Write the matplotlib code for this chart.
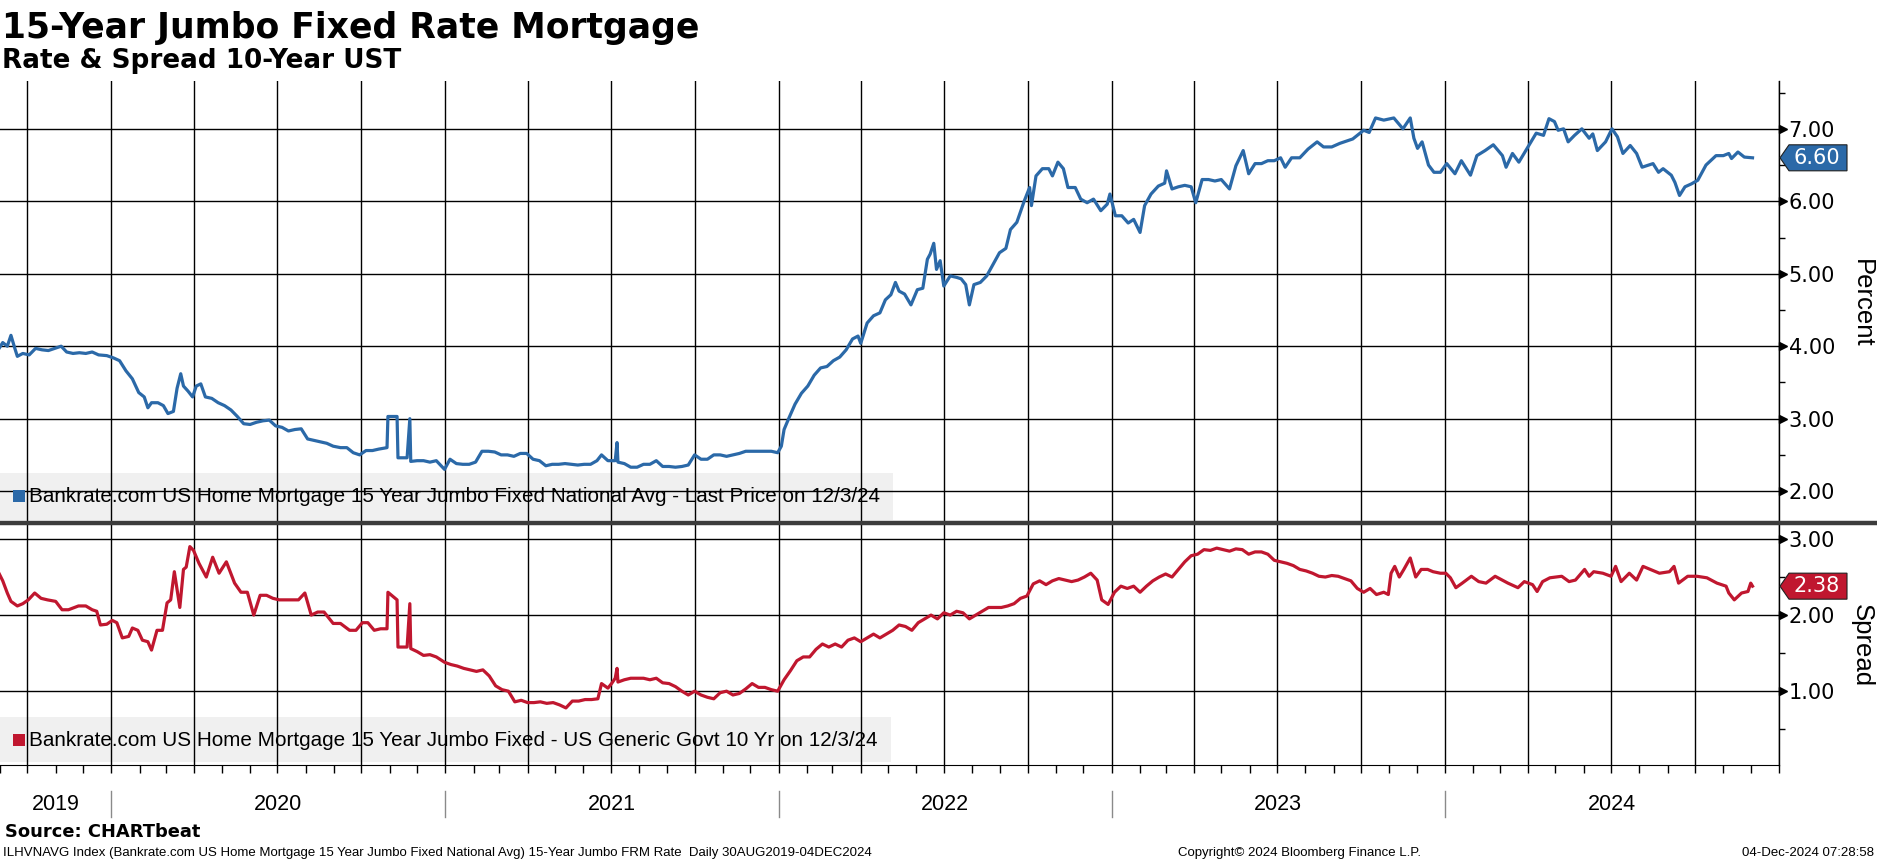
import pandas as pd
import matplotlib
matplotlib.use("Agg")
import matplotlib.pyplot as plt
import matplotlib.dates as mdates
import matplotlib.transforms as mtransforms
from matplotlib.patches import Rectangle, Polygon
from matplotlib.lines import Line2D
from matplotlib.ticker import MultipleLocator

# 15Y jumbo fixed rate (percent)
rate_dates = [
    "2019-08-30", "2019-09-04", "2019-09-09", "2019-09-13", "2019-09-17", "2019-09-20", "2019-09-26",
    "2019-10-03", "2019-10-10", "2019-10-17", "2019-10-24", "2019-10-31", "2019-11-07", "2019-11-13",
    "2019-11-20", "2019-11-27", "2019-12-04", "2019-12-11", "2019-12-18", "2019-12-27",
    "2020-01-03", "2020-01-10", "2020-01-17", "2020-01-24", "2020-01-31", "2020-02-06", "2020-02-10", "2020-02-14", "2020-02-21", "2020-02-27",
    "2020-03-03", "2020-03-09", "2020-03-13", "2020-03-17", "2020-03-20", "2020-03-25", "2020-03-30", "2020-04-03", "2020-04-08", "2020-04-13",
    "2020-04-20", "2020-04-27", "2020-05-04", "2020-05-11", "2020-05-18", "2020-05-25", "2020-06-01", "2020-06-08", "2020-06-15", "2020-06-22",
    "2020-06-29", "2020-07-06", "2020-07-13", "2020-07-20", "2020-07-27", "2020-08-03", "2020-08-10", "2020-08-17", "2020-08-24", "2020-08-31",
    "2020-09-08", "2020-09-15", "2020-09-22", "2020-09-29", "2020-10-06", "2020-10-13", "2020-10-20", "2020-10-29", "2020-10-30", "2020-11-09",
    "2020-11-10", "2020-11-20", "2020-11-23", "2020-11-24", "2020-12-01", "2020-12-08", "2020-12-15", "2020-12-22", "2020-12-31",
    "2021-01-06", "2021-01-13", "2021-01-20", "2021-01-27", "2021-02-03", "2021-02-10", "2021-02-17", "2021-02-24", "2021-03-03", "2021-03-10",
    "2021-03-17", "2021-03-24", "2021-03-31", "2021-04-07", "2021-04-14", "2021-04-21", "2021-04-28", "2021-05-05", "2021-05-12", "2021-05-19",
    "2021-05-26", "2021-06-02", "2021-06-09", "2021-06-16", "2021-06-21", "2021-06-28", "2021-07-06", "2021-07-08", "2021-07-09", "2021-07-16",
    "2021-07-23", "2021-07-30", "2021-08-06", "2021-08-13", "2021-08-20", "2021-08-27", "2021-09-03", "2021-09-10", "2021-09-17", "2021-09-24",
    "2021-10-01", "2021-10-08", "2021-10-15", "2021-10-22", "2021-10-29", "2021-11-05", "2021-11-12", "2021-11-19", "2021-11-26", "2021-12-03",
    "2021-12-10", "2021-12-17", "2021-12-24", "2021-12-31",
    "2022-01-04", "2022-01-07", "2022-01-12", "2022-01-19", "2022-01-26", "2022-02-02", "2022-02-09", "2022-02-16", "2022-02-23", "2022-03-02",
    "2022-03-09", "2022-03-16", "2022-03-23", "2022-03-29", "2022-04-01", "2022-04-08", "2022-04-15", "2022-04-22", "2022-04-28", "2022-05-04",
    "2022-05-09", "2022-05-13", "2022-05-19", "2022-05-26", "2022-06-02", "2022-06-08", "2022-06-13", "2022-06-16", "2022-06-20", "2022-06-23",
    "2022-06-27", "2022-07-01", "2022-07-08", "2022-07-15", "2022-07-20", "2022-07-25", "2022-07-29", "2022-08-03", "2022-08-10", "2022-08-17",
    "2022-08-24", "2022-08-31", "2022-09-07", "2022-09-12", "2022-09-19", "2022-09-27", "2022-10-03", "2022-10-05", "2022-10-10", "2022-10-17",
    "2022-10-24", "2022-10-28", "2022-11-03", "2022-11-09", "2022-11-14", "2022-11-22", "2022-11-28", "2022-12-05", "2022-12-12", "2022-12-20",
    "2022-12-27", "2022-12-30",
    "2023-01-05", "2023-01-12", "2023-01-19", "2023-01-25", "2023-02-01", "2023-02-06", "2023-02-13", "2023-02-21", "2023-02-28", "2023-03-02",
    "2023-03-08", "2023-03-15", "2023-03-22", "2023-03-29", "2023-04-03", "2023-04-10", "2023-04-17", "2023-04-24", "2023-05-01", "2023-05-10",
    "2023-05-17", "2023-05-25", "2023-05-31", "2023-06-07", "2023-06-14", "2023-06-21", "2023-06-28", "2023-07-05", "2023-07-10", "2023-07-17",
    "2023-07-26", "2023-08-04", "2023-08-14", "2023-08-21", "2023-08-30", "2023-09-08", "2023-09-22", "2023-10-04", "2023-10-10", "2023-10-17",
    "2023-10-26", "2023-11-06", "2023-11-16", "2023-11-24", "2023-11-28", "2023-12-02", "2023-12-07", "2023-12-14", "2023-12-20", "2023-12-27",
    "2024-01-03", "2024-01-12", "2024-01-19", "2024-01-29", "2024-02-05", "2024-02-14", "2024-02-23", "2024-03-04", "2024-03-08", "2024-03-15",
    "2024-03-22", "2024-04-02", "2024-04-10", "2024-04-18", "2024-04-24", "2024-04-30", "2024-05-04", "2024-05-10", "2024-05-15", "2024-05-22",
    "2024-05-30", "2024-06-07", "2024-06-11", "2024-06-16", "2024-06-25", "2024-07-02", "2024-07-08", "2024-07-14", "2024-07-22", "2024-07-29",
    "2024-08-04", "2024-08-11", "2024-08-16", "2024-08-22", "2024-08-27", "2024-09-05", "2024-09-09", "2024-09-14", "2024-09-20", "2024-09-27",
    "2024-10-04", "2024-10-13", "2024-10-24", "2024-11-01", "2024-11-07", "2024-11-10", "2024-11-17", "2024-11-24", "2024-12-03",
]
rate_values = [
    3.95, 4.05, 4.00, 4.15, 3.98, 3.86, 3.90,
    3.88, 3.97, 3.95, 3.94, 3.97, 4.00, 3.92,
    3.90, 3.91, 3.90, 3.92, 3.88, 3.87,
    3.84, 3.80, 3.66, 3.55, 3.36, 3.30, 3.15, 3.22, 3.22, 3.18,
    3.07, 3.10, 3.42, 3.62, 3.45, 3.38, 3.30, 3.45, 3.48, 3.30,
    3.28, 3.22, 3.18, 3.12, 3.03, 2.93, 2.92, 2.95, 2.97, 2.98,
    2.90, 2.88, 2.83, 2.85, 2.86, 2.72, 2.70, 2.68, 2.66, 2.62,
    2.60, 2.60, 2.53, 2.50, 2.56, 2.56, 2.58, 2.60, 3.03, 3.03,
    2.46, 2.46, 3.00, 2.41, 2.42, 2.42, 2.40, 2.42, 2.30,
    2.44, 2.38, 2.37, 2.37, 2.40, 2.55, 2.55, 2.54, 2.50, 2.50,
    2.48, 2.52, 2.52, 2.44, 2.42, 2.35, 2.37, 2.37, 2.38, 2.37,
    2.36, 2.37, 2.37, 2.42, 2.50, 2.42, 2.42, 2.67, 2.40, 2.38,
    2.33, 2.33, 2.37, 2.37, 2.42, 2.34, 2.34, 2.33, 2.34, 2.36,
    2.50, 2.44, 2.44, 2.50, 2.50, 2.48, 2.50, 2.52, 2.55, 2.55,
    2.55, 2.55, 2.55, 2.53,
    2.62, 2.85, 3.00, 3.20, 3.35, 3.45, 3.60, 3.70, 3.72, 3.80,
    3.85, 3.95, 4.10, 4.14, 4.04, 4.32, 4.42, 4.46, 4.64, 4.71,
    4.88, 4.76, 4.72, 4.57, 4.78, 4.80, 5.20, 5.27, 5.42, 5.06,
    5.18, 4.83, 4.97, 4.95, 4.93, 4.85, 4.57, 4.85, 4.88, 4.97,
    5.13, 5.29, 5.35, 5.61, 5.71, 6.00, 6.19, 5.94, 6.35, 6.45,
    6.45, 6.35, 6.54, 6.45, 6.19, 6.19, 6.03, 5.98, 6.03, 5.87,
    5.96, 6.10,
    5.80, 5.80, 5.70, 5.75, 5.57, 5.94, 6.10, 6.21, 6.25, 6.42,
    6.17, 6.20, 6.22, 6.20, 5.98, 6.30, 6.30, 6.28, 6.30, 6.17,
    6.49, 6.70, 6.38, 6.52, 6.52, 6.56, 6.56, 6.60, 6.47, 6.60,
    6.60, 6.72, 6.82, 6.75, 6.75, 6.80, 6.86, 6.98, 6.95, 7.15,
    7.12, 7.15, 7.00, 7.15, 6.87, 6.73, 6.82, 6.50, 6.40, 6.40,
    6.52, 6.38, 6.56, 6.36, 6.63, 6.70, 6.78, 6.63, 6.47, 6.66,
    6.54, 6.77, 6.94, 6.91, 7.14, 7.10, 6.98, 7.00, 6.82, 6.91,
    7.00, 6.87, 6.93, 6.70, 6.82, 7.00, 6.89, 6.66, 6.77, 6.66,
    6.47, 6.50, 6.52, 6.40, 6.45, 6.36, 6.26, 6.08, 6.20, 6.24,
    6.29, 6.50, 6.63, 6.63, 6.66, 6.59, 6.68, 6.61, 6.60,
]

# spread vs US generic govt 10 yr
spread_dates = [
    "2019-08-30", "2019-09-04", "2019-09-09", "2019-09-13", "2019-09-20", "2019-09-26", "2019-10-02", "2019-10-09", "2019-10-16", "2019-10-23",
    "2019-11-01", "2019-11-08", "2019-11-15", "2019-11-26", "2019-12-04", "2019-12-11", "2019-12-16", "2019-12-20", "2019-12-27",
    "2020-01-02", "2020-01-07", "2020-01-13", "2020-01-20", "2020-01-24", "2020-01-30", "2020-02-04", "2020-02-10", "2020-02-14", "2020-02-20",
    "2020-02-26", "2020-03-02", "2020-03-06", "2020-03-10", "2020-03-16", "2020-03-20", "2020-03-23", "2020-03-27", "2020-03-31", "2020-04-06",
    "2020-04-14", "2020-04-21", "2020-04-28", "2020-05-06", "2020-05-15", "2020-05-22", "2020-05-29", "2020-06-05", "2020-06-12", "2020-06-19",
    "2020-06-26", "2020-07-03", "2020-07-10", "2020-07-17", "2020-07-24", "2020-07-31", "2020-08-07", "2020-08-14", "2020-08-21", "2020-08-31",
    "2020-09-08", "2020-09-18", "2020-09-25", "2020-10-02", "2020-10-08", "2020-10-15", "2020-10-22", "2020-10-29", "2020-10-30", "2020-11-09",
    "2020-11-10", "2020-11-20", "2020-11-23", "2020-11-24", "2020-12-01", "2020-12-08", "2020-12-15", "2020-12-22", "2020-12-31",
    "2021-01-07", "2021-01-14", "2021-01-21", "2021-01-28", "2021-02-04", "2021-02-11", "2021-02-18", "2021-02-25", "2021-03-04", "2021-03-11",
    "2021-03-18", "2021-03-25", "2021-04-01", "2021-04-08", "2021-04-15", "2021-04-22", "2021-04-29", "2021-05-06", "2021-05-13", "2021-05-20",
    "2021-05-27", "2021-06-03", "2021-06-10", "2021-06-17", "2021-06-21", "2021-06-28", "2021-07-02", "2021-07-06", "2021-07-08", "2021-07-09",
    "2021-07-16", "2021-07-23", "2021-07-30", "2021-08-06", "2021-08-13", "2021-08-20", "2021-08-27", "2021-09-03", "2021-09-10", "2021-09-17",
    "2021-09-24", "2021-10-01", "2021-10-08", "2021-10-15", "2021-10-22", "2021-10-29", "2021-11-05", "2021-11-12", "2021-11-19", "2021-11-26",
    "2021-12-03", "2021-12-10", "2021-12-17", "2021-12-24", "2021-12-31",
    "2022-01-07", "2022-01-14", "2022-01-21", "2022-01-28", "2022-02-04", "2022-02-11", "2022-02-18", "2022-02-25", "2022-03-04", "2022-03-11",
    "2022-03-18", "2022-03-25", "2022-04-01", "2022-04-08", "2022-04-15", "2022-04-22", "2022-04-29", "2022-05-06", "2022-05-13", "2022-05-20",
    "2022-05-27", "2022-06-03", "2022-06-10", "2022-06-17", "2022-06-24", "2022-07-01", "2022-07-08", "2022-07-15", "2022-07-22", "2022-07-29",
    "2022-08-05", "2022-08-12", "2022-08-19", "2022-08-26", "2022-09-02", "2022-09-09", "2022-09-16", "2022-09-23", "2022-09-30", "2022-10-07",
    "2022-10-14", "2022-10-21", "2022-10-28", "2022-11-04", "2022-11-11", "2022-11-18", "2022-11-25", "2022-12-02", "2022-12-09", "2022-12-16",
    "2022-12-21", "2022-12-28",
    "2023-01-04", "2023-01-11", "2023-01-18", "2023-01-25", "2023-02-01", "2023-02-08", "2023-02-15", "2023-02-22", "2023-03-01", "2023-03-08",
    "2023-03-15", "2023-03-22", "2023-03-29", "2023-04-05", "2023-04-12", "2023-04-19", "2023-04-26", "2023-05-03", "2023-05-10", "2023-05-17",
    "2023-05-24", "2023-05-31", "2023-06-07", "2023-06-14", "2023-06-21", "2023-06-28", "2023-07-05", "2023-07-12", "2023-07-19", "2023-07-26",
    "2023-08-02", "2023-08-09", "2023-08-16", "2023-08-23", "2023-08-30", "2023-09-06", "2023-09-13", "2023-09-20", "2023-09-27", "2023-10-04",
    "2023-10-11", "2023-10-18", "2023-10-26", "2023-10-31", "2023-11-03", "2023-11-07", "2023-11-12", "2023-11-17", "2023-11-24", "2023-11-30",
    "2023-12-06", "2023-12-13", "2023-12-19", "2023-12-27",
    "2024-01-02", "2024-01-07", "2024-01-13", "2024-01-20", "2024-01-30", "2024-02-07", "2024-02-15", "2024-02-25", "2024-03-10", "2024-03-21",
    "2024-03-28", "2024-04-06", "2024-04-11", "2024-04-17", "2024-04-25", "2024-05-08", "2024-05-16", "2024-05-23", "2024-06-02", "2024-06-07",
    "2024-06-12", "2024-06-22", "2024-07-01", "2024-07-06", "2024-07-12", "2024-07-21", "2024-07-29", "2024-08-05", "2024-08-13", "2024-08-23",
    "2024-09-03", "2024-09-08", "2024-09-13", "2024-09-23", "2024-10-03", "2024-10-14", "2024-10-25", "2024-11-04", "2024-11-07", "2024-11-13",
    "2024-11-21", "2024-11-28", "2024-12-01", "2024-12-03",
]
spread_values = [
    2.57, 2.45, 2.29, 2.18, 2.12, 2.15, 2.20, 2.29, 2.22, 2.20,
    2.18, 2.07, 2.07, 2.12, 2.12, 2.07, 2.05, 1.87, 1.88,
    1.93, 1.90, 1.70, 1.72, 1.83, 1.80, 1.67, 1.65, 1.54, 1.80,
    1.80, 2.16, 2.20, 2.57, 2.10, 2.60, 2.63, 2.90, 2.85, 2.68,
    2.50, 2.76, 2.55, 2.70, 2.42, 2.30, 2.30, 2.00, 2.26, 2.26,
    2.22, 2.20, 2.20, 2.20, 2.20, 2.29, 2.00, 2.04, 2.04, 1.89,
    1.89, 1.80, 1.80, 1.90, 1.90, 1.80, 1.82, 1.82, 2.30, 2.20,
    1.58, 1.58, 2.15, 1.56, 1.52, 1.47, 1.48, 1.45, 1.38,
    1.35, 1.33, 1.30, 1.28, 1.26, 1.28, 1.20, 1.07, 1.02, 1.00,
    0.86, 0.88, 0.85, 0.85, 0.86, 0.84, 0.85, 0.82, 0.78, 0.87,
    0.87, 0.89, 0.89, 0.90, 1.10, 1.04, 1.10, 1.17, 1.30, 1.12,
    1.15, 1.17, 1.17, 1.17, 1.15, 1.17, 1.11, 1.10, 1.06, 1.00,
    0.95, 1.00, 0.95, 0.92, 0.90, 0.98, 1.00, 0.95, 0.97, 1.03,
    1.10, 1.05, 1.05, 1.02, 1.00,
    1.15, 1.27, 1.40, 1.45, 1.45, 1.55, 1.62, 1.58, 1.62, 1.58,
    1.67, 1.70, 1.65, 1.70, 1.75, 1.70, 1.75, 1.80, 1.87, 1.85,
    1.80, 1.90, 1.95, 2.00, 1.95, 2.03, 2.00, 2.05, 2.03, 1.95,
    2.00, 2.05, 2.10, 2.10, 2.10, 2.12, 2.15, 2.22, 2.25, 2.41,
    2.45, 2.40, 2.45, 2.48, 2.46, 2.44, 2.46, 2.50, 2.55, 2.46,
    2.20, 2.14,
    2.30, 2.38, 2.35, 2.38, 2.30, 2.38, 2.45, 2.50, 2.54, 2.50,
    2.60, 2.70, 2.78, 2.80, 2.86, 2.85, 2.88, 2.86, 2.84, 2.87,
    2.86, 2.80, 2.83, 2.83, 2.80, 2.72, 2.70, 2.68, 2.65, 2.60,
    2.58, 2.55, 2.51, 2.50, 2.52, 2.51, 2.48, 2.45, 2.35, 2.30,
    2.35, 2.27, 2.30, 2.27, 2.55, 2.64, 2.50, 2.60, 2.75, 2.50,
    2.60, 2.60, 2.57, 2.55,
    2.55, 2.49, 2.36, 2.42, 2.51, 2.44, 2.42, 2.51, 2.42, 2.36,
    2.44, 2.40, 2.31, 2.44, 2.49, 2.51, 2.44, 2.46, 2.60, 2.51,
    2.57, 2.55, 2.51, 2.64, 2.44, 2.55, 2.46, 2.64, 2.60, 2.55,
    2.57, 2.64, 2.42, 2.51, 2.51, 2.49, 2.42, 2.38, 2.29, 2.20,
    2.29, 2.31, 2.42, 2.38,
]

years = [2019, 2020, 2021, 2022, 2023, 2024]
rate_ticks = [2, 3, 4, 5, 6, 7]
spread_ticks = [1, 2, 3]

rate_label = "Bankrate.com US Home Mortgage 15 Year Jumbo Fixed National Avg - Last Price on 12/3/24"
spread_label = "Bankrate.com US Home Mortgage 15 Year Jumbo Fixed - US Generic Govt 10 Yr on 12/3/24"

BLUE = "#2b69a8"
RED = "#c0172f"
W, H = 1877, 859
X0, X1 = pd.Timestamp("2019-09-01"), pd.Timestamp("2025-01-01")

fig = plt.figure(figsize=(W / 100, H / 100), dpi=100)


def fx(px):
    return px / W


def fy(py):
    return 1 - py / H


ax1 = fig.add_axes([0, fy(523), fx(1779), (523 - 81) / H])
ax2 = fig.add_axes([0, fy(765), fx(1779), (765 - 523) / H])

ax1.plot(pd.to_datetime(rate_dates), rate_values, color=BLUE, lw=2.3, zorder=3)
ax2.plot(pd.to_datetime(spread_dates), spread_values, color=RED, lw=2.3, zorder=3)

ax1.set_ylim(1.56, 7.66)
ax2.set_ylim(0.03, 3.21)
ax1.set_yticks(rate_ticks)
ax2.set_yticks(spread_ticks)

for ax in (ax1, ax2):
    ax.set_xlim(X0, X1)
    for s in ("left", "top", "bottom"):
        ax.spines[s].set_visible(False)
    ax.spines["right"].set_linewidth(1)
    ax.xaxis.set_major_locator(mdates.MonthLocator(bymonth=[1, 4, 7, 10]))
    ax.xaxis.set_minor_locator(mdates.MonthLocator())
    ax.yaxis.set_minor_locator(MultipleLocator(0.5))
    ax.grid(True, which="major", color="black", lw=1)
    ax.yaxis.tick_right()
    ax.yaxis.set_major_formatter("{x:.2f}")
    ax.tick_params(axis="y", which="major", length=0, pad=7, labelsize=15)
    ax.tick_params(axis="y", which="minor", length=4, width=1)

    # little arrow heads on the major y ticks
    tr = mtransforms.blended_transform_factory(ax.transAxes, ax.transData)
    tr = tr + mtransforms.ScaledTranslation(4 / 100, 0, fig.dpi_scale_trans)
    yt = ax.get_yticks()
    ax.plot([1] * len(yt), yt, ls="none", marker=">", ms=6, color="black",
            transform=tr, clip_on=False)

ax1.tick_params(axis="x", which="both", length=0, labelbottom=False)
ax2.spines["bottom"].set_visible(True)
ax2.tick_params(axis="x", which="both", direction="out", length=6, width=1, labelbottom=False)

# year labels and separators under the bottom panel
xtr = mtransforms.blended_transform_factory(ax2.transData, ax2.transAxes)
for yr in years:
    start = max(pd.Timestamp(f"{yr}-01-01"), X0)
    end = min(pd.Timestamp(f"{yr + 1}-01-01"), X1)
    mid = start + (end - start) / 2
    ax2.text(mid, -0.165, str(yr), transform=xtr, ha="center", va="center",
             fontsize=15.5, family="Liberation Sans", clip_on=False)
    if yr > 2019:
        ax2.add_line(Line2D([start, start], [-0.107, -0.215], transform=xtr,
                            color="#8a8a8a", lw=1, clip_on=False))


def legend_box(ax, y0, y1, ymid, color, label):
    ah = ax.get_window_extent().height
    aw = ax.get_window_extent().width
    t = ax.text(29 / aw, ymid, label, transform=ax.transAxes, ha="left", va="center",
                fontsize=14.9, family="Liberation Sans", zorder=4)
    r = fig.canvas.get_renderer()
    right = t.get_window_extent(r).x1 + 13
    ax.add_patch(Rectangle((0, y0), right / aw, y1 - y0, transform=ax.transAxes,
                           facecolor="#f0f0f0", edgecolor="none", zorder=0.6))
    ax.add_patch(Rectangle((13 / aw, ymid - 6 / ah), 12 / aw, 12 / ah, transform=ax.transAxes,
                           facecolor=color, edgecolor="none", zorder=4))


legend_box(ax1, 3 / 442, 50 / 442, 27 / 442, BLUE, rate_label)
legend_box(ax2, 3 / 242, 48 / 242, 25 / 242, RED, spread_label)


def badge(ax, value, color):
    base = mtransforms.blended_transform_factory(ax.transAxes, ax.transData)
    tr = mtransforms.Affine2D() + mtransforms.ScaledTranslation(1.0, value, base)
    verts = [(1, 0), (10, 13), (68, 13), (68, -13), (10, -13)]
    fig.add_artist(Polygon(verts, closed=True, transform=tr, facecolor=color,
                           edgecolor="#202020", lw=0.8, zorder=5))
    ttr = base + mtransforms.ScaledTranslation(38 / 100, 0, fig.dpi_scale_trans)
    fig.text(1.0, value, f"{value:.2f}", transform=ttr, ha="center", va="center",
             color="white", fontsize=15, zorder=6)


badge(ax1, rate_values[-1], BLUE)
badge(ax2, spread_values[-1], RED)

# heavy divider between the panels
fig.add_artist(Line2D([0, 1], [fy(523), fy(523)], transform=fig.transFigure,
                      color="#3c3c3c", lw=3.2))

fig.text(fx(1862), fy(303), "Percent", rotation=270, ha="center", va="center",
         fontsize=18.5, family="Liberation Sans")
fig.text(fx(1862), fy(646), "Spread", rotation=270, ha="center", va="center",
         fontsize=18.5, family="Liberation Sans")

fig.text(fx(2), fy(38), "15-Year Jumbo Fixed Rate Mortgage", fontsize=24.9,
         weight="bold", va="baseline")
fig.text(fx(2), fy(68), "Rate & Spread 10-Year UST", fontsize=18.9,
         weight="bold", va="baseline")
fig.text(fx(5), fy(837), "Source: CHARTbeat", fontsize=12.9, weight="bold", va="baseline")
fig.text(fx(3), fy(856), "ILHVNAVG Index (Bankrate.com US Home Mortgage 15 Year Jumbo Fixed National Avg) "
         "15-Year Jumbo FRM Rate  Daily 30AUG2019-04DEC2024",
         fontsize=9.5, family="Liberation Sans", va="baseline")
fig.text(fx(1178), fy(856), "Copyright\u00a9 2024 Bloomberg Finance L.P.",
         fontsize=9.5, family="Liberation Sans", va="baseline")
fig.text(fx(1874), fy(856), "04-Dec-2024 07:28:58", ha="right",
         fontsize=9.5, family="Liberation Sans", va="baseline")

fig.savefig("out.png", dpi=100)
